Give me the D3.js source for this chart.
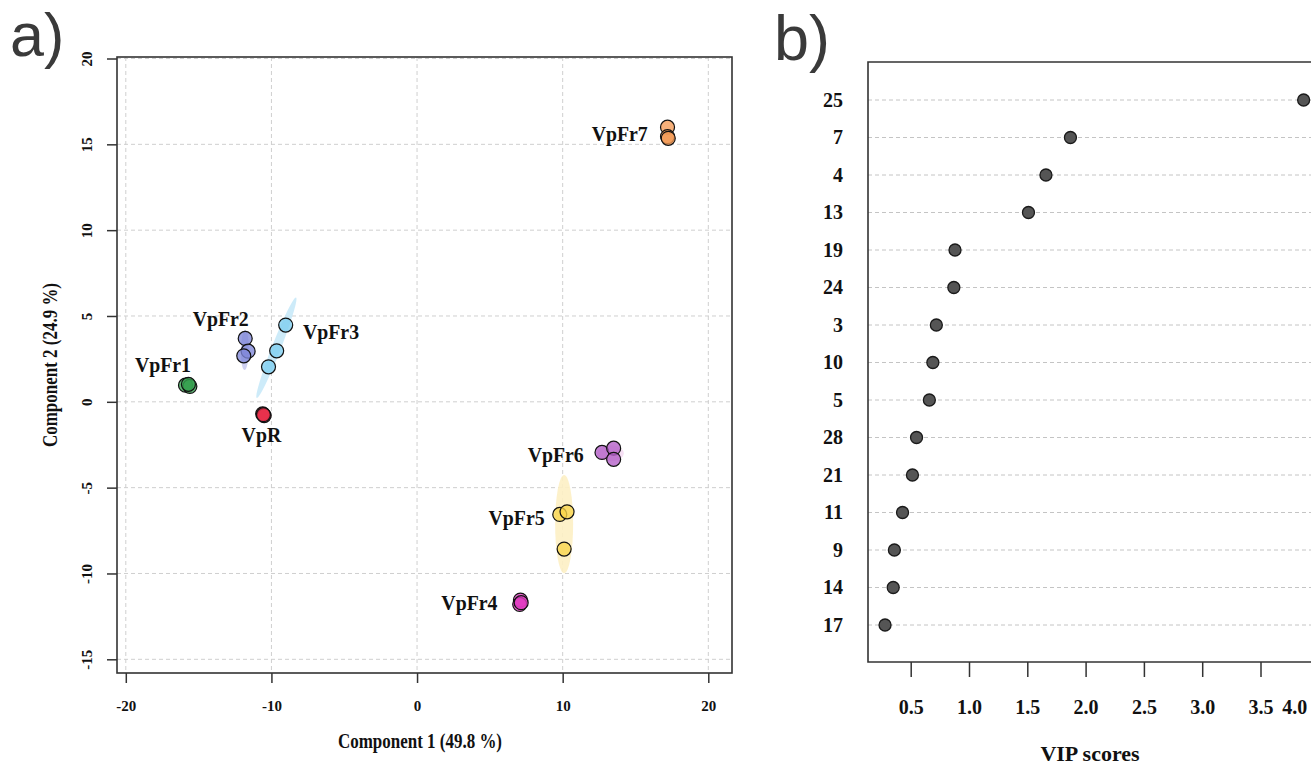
<!DOCTYPE html>
<html>
<head>
<meta charset="utf-8">
<script src="https://cdn.jsdelivr.net/npm/d3@7/dist/d3.min.js"></script>
<style>
  html, body { margin: 0; padding: 0; background: #fff; }
  svg { display: block; }
</style>
</head>
<body>
<svg id="chart" width="1311" height="767"></svg>
<script>
// ---------------- DATA ----------------
// Panel a: PLS-DA scores
const groupNames = ["VpR", "VpFr1", "VpFr2", "VpFr3", "VpFr4", "VpFr5", "VpFr6", "VpFr7"];
const sampleGroup = ["VpR","VpR","VpR","VpFr1","VpFr1","VpFr1","VpFr2","VpFr2","VpFr2","VpFr3","VpFr3","VpFr3",
                     "VpFr4","VpFr4","VpFr4","VpFr5","VpFr5","VpFr5","VpFr6","VpFr6","VpFr6","VpFr7","VpFr7","VpFr7"];
const comp1 = [-10.6, -10.5, -10.55, -15.9, -15.6, -15.7, -11.8, -11.6, -11.9, -9.02, -9.64, -10.2,
               7.1, 7.05, 7.15, 9.8, 10.3, 10.1, 12.7, 13.5, 13.5, 17.2, 17.2, 17.25];
const comp2 = [-0.7, -0.8, -0.75, 0.97, 0.9, 1.02, 3.69, 2.95, 2.68, 4.47, 2.97, 2.04,
               -11.55, -11.8, -11.7, -6.56, -6.41, -8.58, -2.95, -2.7, -3.35, 16.0, 15.45, 15.35];
const xTicksA = [-20, -10, 0, 10, 20];
const yTicksA = [-15, -10, -5, 0, 5, 10, 15, 20];
// confidence ellipses: group and major-axis end points (data units)
const ellipseGroups = ["VpFr2", "VpFr3", "VpFr5", "VpFr6"];
const ellipseEnds = [[-11.8, 4.2, -11.85, 1.85], [-11.01, 0.22, -8.31, 6.08], [10.1, -4.27, 10.1, -9.98], [12.36, -3.0, 14.2, -3.0]];

// Panel b: VIP scores
const vipFeatures = ["25", "7", "4", "13", "19", "24", "3", "10", "5", "28", "21", "11", "9", "14", "17"];
const vipScores = [3.87, 1.87, 1.66, 1.51, 0.88, 0.87, 0.72, 0.69, 0.66, 0.55, 0.515, 0.43, 0.36, 0.35, 0.28];
const vipTicks = [0.5, 1.0, 1.5, 2.0, 2.5, 3.0, 3.5, 4.0];

// ---------------- STYLE ----------------
const groupColor = {
  VpR: "#e8304a", VpFr1: "#36a24f", VpFr2: "#7f86d9", VpFr3: "#7ccdf0",
  VpFr4: "#e23cc2", VpFr5: "#f8d54a", VpFr6: "#b25cc6", VpFr7: "#f49a55"
};
const ellipseColor = { VpFr2: "#c9cbef", VpFr3: "#c8e9f8", VpFr5: "#fdf0c4", VpFr6: "#f4dcf2" };
const ellipseHalfWidth = { VpFr2: 4, VpFr3: 4.5, VpFr5: 9, VpFr6: 8 };
// label offsets from group centroid in px: [dx, dy, anchor]
const labelOffset = {
  VpR: [-2, 27, "middle"], VpFr1: [-25, -13.5, "middle"], VpFr2: [-25, -22, "middle"],
  VpFr3: [26, -9, "start"], VpFr4: [-23, 7.5, "end"], VpFr5: [-19, 0, "end"],
  VpFr6: [-26, 8.5, "end"], VpFr7: [-20, 7, "end"]
};
const serif = "'Liberation Serif', 'Times New Roman', serif";
const sans = "'Liberation Sans', Arial, sans-serif";

const svg = d3.select("#chart");

// condense a text to a target width (reference uses a narrow serif)
function condense(sel, ratio) {
  sel.each(function () {
    const w = this.getComputedTextLength();
    d3.select(this).attr("textLength", w * ratio).attr("lengthAdjust", "spacingAndGlyphs");
  });
}

// ---------------- PANEL A ----------------
const boxA = { left: 117, top: 57, right: 732, bottom: 673 };
const x = d3.scaleLinear().domain([-20, 20]).range([125.8, 708.3]);
const y = d3.scaleLinear().domain([-15, 20]).range([659.3, 58.5]);

const gA = svg.append("g");

// grid
gA.selectAll("line.vgrid").data(xTicksA).join("line")
  .attr("x1", d => x(d)).attr("x2", d => x(d))
  .attr("y1", boxA.top).attr("y2", boxA.bottom)
  .attr("stroke", "#cfcfcf").attr("stroke-width", 1).attr("stroke-dasharray", "4,3");
gA.selectAll("line.hgrid").data(yTicksA).join("line")
  .attr("x1", boxA.left).attr("x2", boxA.right)
  .attr("y1", d => y(d)).attr("y2", d => y(d))
  .attr("stroke", "#cfcfcf").attr("stroke-width", 1).attr("stroke-dasharray", "4,3");

// ellipses
ellipseGroups.forEach((g, i) => {
  const [x1, y1, x2, y2] = ellipseEnds[i];
  const p1 = [x(x1), y(y1)], p2 = [x(x2), y(y2)];
  const cx = (p1[0] + p2[0]) / 2, cy = (p1[1] + p2[1]) / 2;
  const L = Math.hypot(p2[0] - p1[0], p2[1] - p1[1]);
  const ang = Math.atan2(p2[1] - p1[1], p2[0] - p1[0]) * 180 / Math.PI;
  gA.append("ellipse")
    .attr("transform", `translate(${cx},${cy}) rotate(${ang})`)
    .attr("rx", L / 2).attr("ry", ellipseHalfWidth[g])
    .attr("fill", ellipseColor[g]).attr("opacity", 0.9);
});

// points
const pts = comp1.map((v, i) => ({ x: v, y: comp2[i], g: sampleGroup[i] }));
gA.selectAll("circle.pt").data(pts).join("circle")
  .attr("cx", d => x(d.x)).attr("cy", d => y(d.y)).attr("r", 7)
  .attr("fill", d => groupColor[d.g]).attr("fill-opacity", 0.78)
  .attr("stroke", "#111").attr("stroke-width", 1.2);

// labels
groupNames.forEach(g => {
  const idx = sampleGroup.map((s, i) => s === g ? i : -1).filter(i => i >= 0);
  const mx = d3.mean(idx, i => comp1[i]), my = d3.mean(idx, i => comp2[i]);
  const [dx, dy, anchor] = labelOffset[g];
  gA.append("text")
    .attr("x", x(mx) + dx).attr("y", y(my) + dy)
    .attr("text-anchor", anchor)
    .attr("font-family", serif).attr("font-weight", "bold").attr("font-size", 22)
    .attr("fill", "#111").text(g)
    .call(condense, 0.9);
});

// frame
gA.append("rect")
  .attr("x", boxA.left).attr("y", boxA.top)
  .attr("width", boxA.right - boxA.left).attr("height", boxA.bottom - boxA.top)
  .attr("fill", "none").attr("stroke", "#333").attr("stroke-width", 1.6);

// x axis
const xAxisA = gA.append("g").attr("transform", `translate(0,${boxA.bottom})`)
  .call(d3.axisBottom(x).tickValues(xTicksA).tickSize(10).tickPadding(17).tickFormat(d3.format("d")));
xAxisA.select(".domain").remove();
xAxisA.selectAll(".tick line").attr("stroke", "#333").attr("stroke-width", 1.5);
xAxisA.selectAll(".tick text").attr("font-family", serif).attr("font-weight", "bold")
  .attr("font-size", 15).attr("fill", "#111").text(d => d < 0 ? "-" + Math.abs(d) : d);

// y axis
const yAxisA = gA.append("g").attr("transform", `translate(${boxA.left},0)`)
  .call(d3.axisLeft(y).tickValues(yTicksA).tickSize(10).tickFormat(d3.format("d")));
yAxisA.select(".domain").remove();
yAxisA.selectAll(".tick line").attr("stroke", "#333").attr("stroke-width", 1.5);
yAxisA.selectAll(".tick text")
  .attr("transform", "rotate(-90)").attr("x", 0).attr("y", -25).attr("dy", 0)
  .attr("text-anchor", "middle")
  .attr("font-family", serif).attr("font-weight", "bold").attr("font-size", 15).attr("fill", "#111")
  .text(d => d < 0 ? "-" + Math.abs(d) : d);

// titles
gA.append("text").attr("x", 420).attr("y", 748)
  .attr("text-anchor", "middle").attr("font-family", serif).attr("font-weight", "bold")
  .attr("font-size", 21).attr("fill", "#111").text("Component 1 (49.8 %)")
  .attr("textLength", 164).attr("lengthAdjust", "spacingAndGlyphs");
gA.append("text").attr("transform", `translate(57,${(boxA.top + boxA.bottom) / 2}) rotate(-90)`)
  .attr("text-anchor", "middle").attr("font-family", serif).attr("font-weight", "bold")
  .attr("font-size", 21).attr("fill", "#111").text("Component 2 (24.9 %)")
  .attr("textLength", 164).attr("lengthAdjust", "spacingAndGlyphs");

svg.append("text").attr("x", 10).attr("y", 56)
  .attr("font-family", sans).attr("font-size", 61).attr("fill", "#3a3a3a").text("a)");

// ---------------- PANEL B ----------------
const boxB = { left: 868, top: 62, right: 1340, bottom: 662 };
const xb = d3.scaleLinear().domain([0, 4]).range([852.4, 1318.8]);
const yb = d3.scalePoint().domain(vipFeatures).range([100, 625]);

const gB = svg.append("g");

gB.selectAll("line.rgrid").data(vipFeatures).join("line")
  .attr("x1", boxB.left).attr("x2", 1311)
  .attr("y1", d => yb(d)).attr("y2", d => yb(d))
  .attr("stroke", "#c4c4c4").attr("stroke-width", 1).attr("stroke-dasharray", "4,3");

gB.selectAll("circle.vip").data(vipFeatures).join("circle")
  .attr("cx", (d, i) => xb(vipScores[i])).attr("cy", d => yb(d)).attr("r", 6)
  .attr("fill", "#555").attr("stroke", "#1a1a1a").attr("stroke-width", 1.3);

gB.append("path")
  .attr("d", `M${boxB.right},${boxB.top} H${boxB.left} V${boxB.bottom} H${boxB.right}`)
  .attr("fill", "none").attr("stroke", "#333").attr("stroke-width", 1.6);

const xAxisB = gB.append("g").attr("transform", `translate(0,${boxB.bottom})`)
  .call(d3.axisBottom(xb).tickValues(vipTicks).tickSize(15).tickPadding(23).tickFormat(d3.format(".1f")));
xAxisB.select(".domain").remove();
xAxisB.selectAll(".tick line").attr("stroke", "#333").attr("stroke-width", 1.5);
xAxisB.selectAll(".tick text").attr("font-family", serif).attr("font-weight", "bold")
  .attr("font-size", 20).attr("fill", "#111");
// last label sits inside the cropped figure edge
xAxisB.selectAll(".tick text").filter(d => d === 4.0).attr("text-anchor", "end").attr("x", -12);

const yAxisB = gB.append("g").attr("transform", `translate(${boxB.left},0)`)
  .call(d3.axisLeft(yb).tickSize(0).tickPadding(25));
yAxisB.select(".domain").remove();
yAxisB.selectAll(".tick text").attr("font-family", serif).attr("font-weight", "bold")
  .attr("font-size", 20).attr("fill", "#111");

gB.append("text").attr("x", 1090).attr("y", 761)
  .attr("text-anchor", "middle").attr("font-family", serif).attr("font-weight", "bold")
  .attr("font-size", 22).attr("fill", "#111").text("VIP scores");

svg.append("text").attr("x", 774).attr("y", 60)
  .attr("font-family", sans).attr("font-size", 63).attr("fill", "#3a3a3a").text("b)");
</script>
</body>
</html>
